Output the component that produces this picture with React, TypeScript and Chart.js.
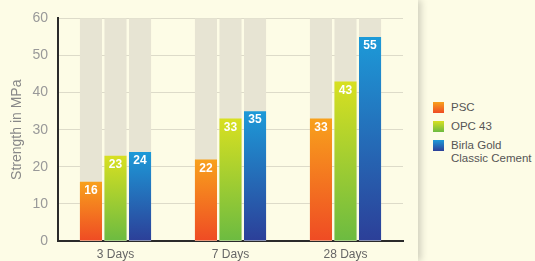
import React, { useEffect, useRef } from "react";
import { Chart, registerables } from "chart.js";

Chart.register(...registerables);

const categories = ["3 Days", "7 Days", "28 Days"];
const seriesNames = ["PSC", "OPC 43", "Birla Gold\nClassic Cement"];
const pscValues = [16, 22, 33];
const opcValues = [23, 33, 43];
const birlaValues = [24, 35, 55];
const yTicks = [0, 10, 20, 30, 40, 50, 60];
const yMax = 60;
// gradient colours: [top, bottom]
const gradients = [
  ["#f8a11c", "#ef4b24"],
  ["#d8e021", "#6cbb41"],
  ["#1d9ad8", "#2c3f98"],
];

const FONT = "'Liberation Sans', Arial, Helvetica, sans-serif";

export default function App() {
  const ref = useRef<HTMLCanvasElement | null>(null);

  useEffect(() => {
    document.body.style.margin = "0";
    const canvas = ref.current!;
    const seriesData = [pscValues, opcValues, birlaValues];

    const bgBars = {
      id: "bgBars",
      beforeDatasetsDraw(chart: any) {
        const ctx = chart.ctx;
        const y = chart.scales.y;
        const top = y.getPixelForValue(yMax);
        const base = y.getPixelForValue(0);
        ctx.save();
        ctx.fillStyle = "#e7e4d3";
        chart.data.datasets.forEach((_: any, di: number) => {
          const meta = chart.getDatasetMeta(di);
          meta.data.forEach((el: any) => {
            const w = el.width;
            ctx.fillRect(el.x - w / 2, top, w, base - top);
          });
        });
        ctx.restore();
      },
    };

    const valueLabels = {
      id: "valueLabels",
      afterDatasetsDraw(chart: any) {
        const ctx = chart.ctx;
        ctx.save();
        ctx.fillStyle = "#ffffff";
        ctx.font = `bold 12px ${FONT}`;
        ctx.textAlign = "center";
        ctx.textBaseline = "middle";
        chart.data.datasets.forEach((ds: any, di: number) => {
          const meta = chart.getDatasetMeta(di);
          meta.data.forEach((el: any, i: number) => {
            ctx.fillText(String(ds.data[i]), el.x, el.y + 9);
          });
        });
        ctx.restore();
      },
    };

    const chart = new Chart(canvas, {
      type: "bar",
      data: {
        labels: categories,
        datasets: seriesData.map((vals, si) => ({
          label: seriesNames[si],
          data: vals,
          backgroundColor: (c: any) => {
            const ch = c.chart;
            const y = ch.scales?.y;
            if (!y || c.type !== "data") return gradients[si][0];
            const v = c.raw as number;
            const y0 = y.getPixelForValue(v);
            const y1 = y.getPixelForValue(0);
            if (!isFinite(y0) || !isFinite(y1) || y0 === y1) return gradients[si][0];
            const g = ch.ctx.createLinearGradient(0, y0, 0, y1);
            g.addColorStop(0, gradients[si][0]);
            g.addColorStop(1, gradients[si][1]);
            return g;
          },
          borderWidth: 0,
          categoryPercentage: 0.64,
          barPercentage: 0.9,
        })),
      },
      options: {
        animation: false,
        responsive: false,
        maintainAspectRatio: false,
        layout: { padding: { top: 15, right: 15, left: 0, bottom: 0 } },
        plugins: { legend: { display: false }, tooltip: { enabled: false } },
        scales: {
          x: {
            grid: { display: false, drawTicks: false },
            border: { display: true, color: "#2a2a2a", width: 2 },
            ticks: { color: "#666", font: { family: FONT, size: 12 }, padding: 6 },
            afterFit: (s: any) => {
              s.height = 20;
            },
          },
          y: {
            min: 0,
            max: yMax,
            afterBuildTicks: (s: any) => {
              s.ticks = yTicks.map((v) => ({ value: v }));
            },
            grid: { color: "#dddbc9", lineWidth: 1, drawTicks: false },
            border: { display: true, color: "#2a2a2a", width: 2 },
            ticks: { color: "#999", font: { family: FONT, size: 14 }, padding: 10 },
            title: {
              display: true,
              text: "Strength in MPa",
              color: "#888",
              font: { family: FONT, size: 14 },
              padding: { top: 9, bottom: 0 },
            },
            afterFit: (s: any) => {
              s.width = 58;
            },
          },
        },
      },
      plugins: [bgBars, valueLabels],
    });
    return () => chart.destroy();
  }, []);

  const legendItems = seriesNames.map((n, i) => ({ name: n, grad: gradients[i] }));

  return (
    <div
      style={{
        position: "relative",
        width: 535,
        height: 261,
        background: "#fdfce6",
        overflow: "hidden",
        fontFamily: FONT,
      }}
    >
      <div
        style={{
          position: "absolute",
          left: 0,
          top: 0,
          width: 418,
          height: 261,
          background: "#fdfce6",
          boxShadow: "3px 0 7px rgba(0,0,0,0.18)",
          zIndex: 1,
        }}
      >
        <canvas ref={ref} width={418} height={261} style={{ display: "block" }} />
      </div>
      <div style={{ position: "absolute", left: 433, top: 102, zIndex: 2 }}>
        {legendItems.map((it, i) => (
          <div
            key={i}
            style={{ display: "flex", alignItems: "flex-start", marginBottom: 7, height: i === 2 ? 26 : 12 }}
          >
            <div
              style={{
                width: 11,
                height: 11,
                background: `linear-gradient(${it.grad[0]}, ${it.grad[1]})`,
                marginRight: 7,
                flexShrink: 0,
              }}
            />
            <div style={{ fontSize: 11.5, color: "#555", lineHeight: "13px", marginTop: -1, whiteSpace: "pre" }}>
              {it.name}
            </div>
          </div>
        ))}
      </div>
    </div>
  );
}
